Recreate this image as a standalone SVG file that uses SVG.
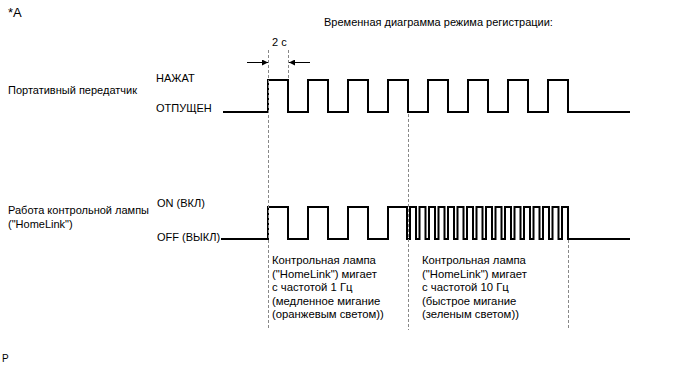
<svg xmlns="http://www.w3.org/2000/svg" width="688" height="366" viewBox="0 0 688 366">
<style>
text{font-family:"Liberation Sans",Arial,sans-serif;font-size:11px;fill:#000}
.note text{font-size:11.3px}
.wave{fill:none;stroke:#000;stroke-width:2;stroke-linejoin:miter}
.dash{fill:none;stroke:#888;stroke-width:1;stroke-dasharray:3,2}
.arr{fill:none;stroke:#000;stroke-width:1}
</style>
<defs>
<marker id="ah" viewBox="0 0 10 10" refX="10" refY="5" markerWidth="9" markerHeight="6" markerUnits="userSpaceOnUse" orient="auto">
<path d="M0,0 L10,5 L0,10 Z" fill="#000"/>
</marker>
</defs>
<rect width="688" height="366" fill="#fff"/>
<g id="header">
<text x="8" y="17" style="font-size:13px">*A</text>
<text x="324" y="26">Временная диаграмма режима регистрации:</text>
<text x="2" y="362" style="font-size:10px">P</text>
</g>
<g id="transmitter">
<text x="8" y="94">Портативный передатчик</text>
<text x="156" y="82">НАЖАТ</text>
<text x="156" y="112">ОТПУЩЕН</text>
<path class="wave" d="M223,112 H268 V80 H288 V112 H308 V80 H328 V112 H348 V80 H368 V112 H388 V80 H408 V112 H428 V80 H448 V112 H468 V80 H488 V112 H508 V80 H528 V112 H548 V80 H568 V112 H630"/>
</g>
<g id="lamp">
<text x="8" y="214">Работа контрольной лампы</text>
<text x="8" y="228">("HomeLink")</text>
<text x="157" y="207">ON (ВКЛ)</text>
<text x="157" y="241">OFF (ВЫКЛ)</text>
<path class="wave" d="M221,239 H268 V207 H288 V239 H308 V207 H328 V239 H348 V207 H368 V239 H388 V207 H407 V239 H410 V207 H416 V239 H419.5 V207 H425.5 V239 H429 V207 H435 V239 H438.5 V207 H444.5 V239 H448 V207 H454 V239 H457.5 V207 H463.5 V239 H467 V207 H473 V239 H476.5 V207 H482.5 V239 H486 V207 H492 V239 H495.5 V207 H501.5 V239 H505 V207 H511 V239 H514.5 V207 H520.5 V239 H524 V207 H530 V239 H533.5 V207 H539.5 V239 H543 V207 H549 V239 H552.5 V207 H558.5 V239 H562 V207 H568 V239 H630"/>
</g>
<g id="slow-note" class="note">
<text x="272" y="264">Контрольная лампа</text>
<text x="272" y="277.5">("HomeLink") мигает</text>
<text x="272" y="291">с частотой 1 Гц</text>
<text x="272" y="304.5">(медленное мигание</text>
<text x="272" y="318">(оранжевым светом))</text>
</g>
<g id="fast-note" class="note">
<text x="422" y="264">Контрольная лампа</text>
<text x="422" y="277.5">("HomeLink") мигает</text>
<text x="422" y="291">с частотой 10 Гц</text>
<text x="422" y="304.5">(быстрое мигание</text>
<text x="422" y="318">(зеленым светом))</text>
</g>
<g id="period-label">
<text x="272" y="46">2 с</text>
</g>
<g id="connectors">
<line class="dash" x1="268.5" y1="50" x2="268.5" y2="330"/>
<line class="dash" x1="288.5" y1="50" x2="288.5" y2="80"/>
<line class="dash" x1="408.5" y1="114" x2="408.5" y2="330"/>
<line class="dash" x1="568.5" y1="240" x2="568.5" y2="330"/>
<line class="arr" x1="247" y1="62.5" x2="268" y2="62.5" marker-end="url(#ah)"/>
<line class="arr" x1="310" y1="62.5" x2="289" y2="62.5" marker-end="url(#ah)"/>
</g>
</svg>
